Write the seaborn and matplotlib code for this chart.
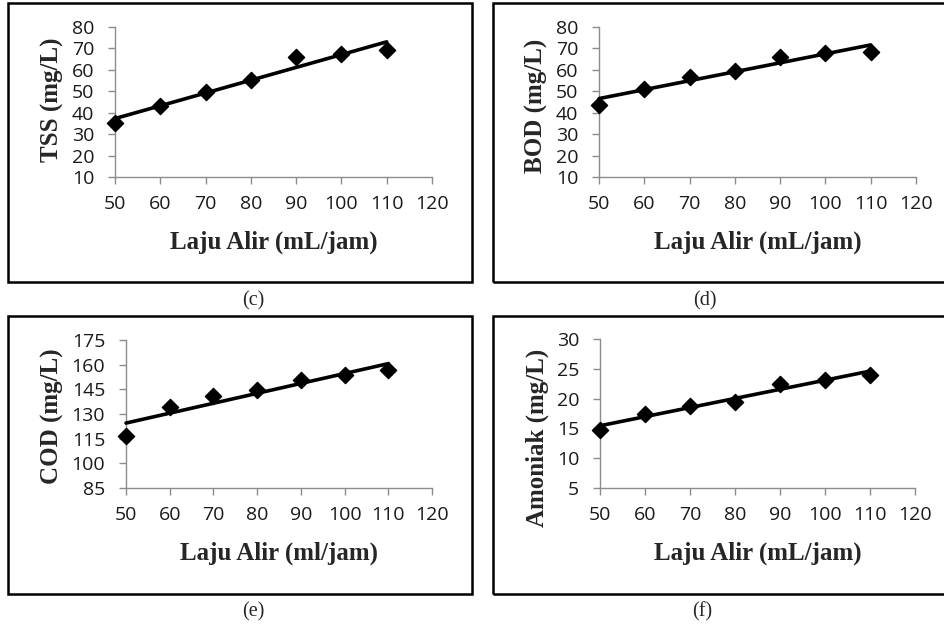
import numpy as np
import pandas as pd
import matplotlib
matplotlib.use('Agg')
import matplotlib.pyplot as plt
from matplotlib.patches import Rectangle
import seaborn as sns

# data
laju_alir = [50, 60, 70, 80, 90, 100, 110]
tss = [35.0, 43.3, 49.9, 55.4, 65.8, 67.6, 69.2]
bod = [43.8, 51.0, 56.8, 59.7, 66.2, 68.0, 68.3]
cod = [116.8, 134.1, 141.2, 144.4, 150.9, 153.9, 156.6]
amoniak = [14.8, 17.5, 18.7, 19.5, 22.5, 23.2, 24.0]

xticks = [50, 60, 70, 80, 90, 100, 110, 120]
panels = ['(c)', '(d)', '(e)', '(f)']
ylabels = ['TSS (mg/L)', 'BOD (mg/L)', 'COD (mg/L)', 'Amoniak (mg/L)']
xlabels = ['Laju Alir (mL/jam)', 'Laju Alir (mL/jam)', 'Laju Alir (ml/jam)', 'Laju Alir (mL/jam)']
yticks = [list(range(10, 81, 10)), list(range(10, 81, 10)),
          list(range(85, 176, 15)), list(range(5, 31, 5))]
series = [tss, bod, cod, amoniak]

sns.set_style('white')
plt.rcParams['font.family'] = ['Liberation Serif', 'DejaVu Serif']

W, H = 944, 627
fig = plt.figure(figsize=(W / 100, H / 100), dpi=100)

def px_box(l, t, r, b):
    return [l / W, 1 - b / H, (r - l) / W, (b - t) / H]

# axes boxes in pixels (left, top, right, bottom)
boxes = [(115, 27, 432, 177), (599, 27, 916, 177),
         (126, 340, 432, 488), (600, 339, 915, 488)]
frames = [(8, 3, 472, 282), (493, 3, 962, 282),
          (8, 316, 472, 594), (493, 316, 962, 594)]
captions = [(253, 301), (705, 301), (253, 612), (702, 612)]
xlab_y = [-0.433, -0.433, -0.439, -0.436]
ylab_x = [-0.196, -0.196, -0.239, -0.2]
ylab_y = [0.513, 0.473, 0.486, 0.336]

grey = '#8c8c8c'

for i in range(4):
    l, t, r, b = frames[i]
    fig.patches.append(Rectangle((l / W, 1 - b / H), (r - l) / W, (b - t) / H,
                                 transform=fig.transFigure, fill=False,
                                 edgecolor='black', linewidth=1.8))
    cx, cy = captions[i]
    fig.text(cx / W, 1 - cy / H, panels[i], ha='center', va='center', fontsize=14.5)

    ax = fig.add_axes(px_box(*boxes[i]))
    df = pd.DataFrame({'x': laju_alir, 'y': series[i]})
    sns.regplot(data=df, x='x', y='y', ax=ax, ci=None, color='black', marker='D',
                scatter_kws={'s': 68, 'clip_on': False, 'zorder': 4, 'alpha': 1},
                line_kws={'linewidth': 2.6, 'clip_on': False, 'zorder': 3})
    ax.set_xlim(50, 120)
    ax.set_ylim(yticks[i][0], yticks[i][-1])
    ax.set_xticks(xticks)
    ax.set_yticks(yticks[i])
    for s in ['top', 'right']:
        ax.spines[s].set_visible(False)
    for s in ['left', 'bottom']:
        ax.spines[s].set_color(grey)
        ax.spines[s].set_linewidth(1.0)
    ax.tick_params(axis='both', direction='out', length=5, width=1.0, color=grey,
                   labelsize=14, left=True, bottom=True)
    ax.tick_params(axis='x', pad=8)
    ax.tick_params(axis='y', pad=10)
    for lab in ax.get_xticklabels() + ax.get_yticklabels():
        lab.set_family(['Open Sans', 'DejaVu Sans'])
        lab.set_color('#1a1a1a')
    ax.set_xlabel(xlabels[i], fontsize=18, fontweight='bold', va='center')
    ax.xaxis.set_label_coords(0.5, xlab_y[i])
    ax.set_ylabel(ylabels[i], fontsize=18, fontweight='bold', va='center')
    ax.yaxis.set_label_coords(ylab_x[i], ylab_y[i])

fig.savefig('out.png', dpi=100)
